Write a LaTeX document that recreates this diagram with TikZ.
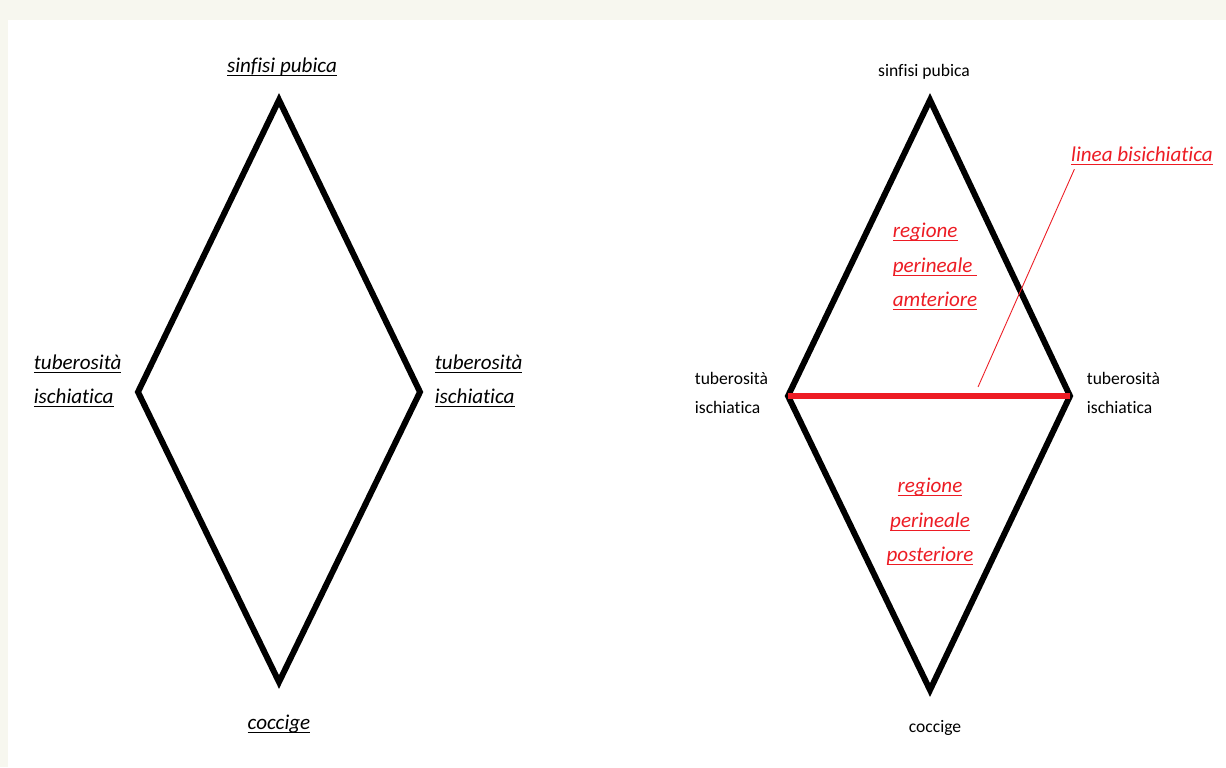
\documentclass[tikz,border=0pt]{standalone}
\usepackage{amsmath}
\usepackage{fontspec}
\setmainfont{Carlito}[Ligatures=NoCommon]
\usepackage{tikz}
\definecolor{paintred}{HTML}{ED1C24}
\definecolor{frame}{HTML}{F7F7EF}
\newcommand{\ulabel}[1]{\underline{\smash[b]{#1}}}
\tikzset{
  bone/.style={line width=3.4pt, line join=miter},
  lab/.style={font=\fontsize{12}{19.5}\selectfont\itshape, inner sep=2pt},
  plainlab/.style={font=\fontsize{10}{16.5}\selectfont, inner sep=2pt},
  redlab/.style={lab, text=paintred},
}

\begin{document}
\begin{tikzpicture}[x=0.02cm, y=-0.02cm]
  % frame
  \fill[frame] (0,0) rectangle (1226,767);
  \fill[white] (8,20) rectangle (1226,767);
  \useasboundingbox (0,0) rectangle (1226,767);

  % left rhombus
  \coordinate (ltop) at (279,100);
  \coordinate (lleft) at (138,392);
  \coordinate (lright) at (420,392);
  \coordinate (lbot) at (279,682);
  \draw[bone] (ltop) -- (lright) -- (lbot) -- (lleft) -- cycle;

  \node[lab] (lsinf) at (282,67) {\ulabel{sinfisi pubica}};
  \node[lab, anchor=west, align=left] (ltubl) at (30,381) {\ulabel{tuberosità}\\\ulabel{ischiatica}};
  \node[lab, anchor=west, align=left] (ltubr) at (431,381) {\ulabel{tuberosità}\\\ulabel{ischiatica}};
  \node[lab] (lcocc) at (279,724) {\ulabel{coccige}};

  % right rhombus
  \coordinate (rtop) at (930,100);
  \coordinate (rleft) at (788,396);
  \coordinate (rright) at (1070,396);
  \coordinate (rbot) at (930,690);
  \draw[bone] (rtop) -- (rright) -- (rbot) -- (rleft) -- cycle;
  \draw[paintred, line width=3.4pt] (rleft) -- (rright);

  \node[plainlab] (rsinf) at (924,72) {sinfisi pubica};
  \node[plainlab, anchor=west, align=left] (rtubl) at (691,393) {tuberosità\\ischiatica};
  \node[plainlab, anchor=west, align=left] (rtubr) at (1083,393) {tuberosità\\ischiatica};
  \node[plainlab] (rcocc) at (935,728) {coccige};

  % regions
  \node[redlab, align=left] (ant) at (935,267) {\ulabel{regione}\\\ulabel{perineale\ }\\\ulabel{amteriore}};
  \node[redlab, align=center] (post) at (930,522) {\ulabel{regione}\\\ulabel{perineale}\\\ulabel{posteriore}};

  % leader
  \node[redlab] (lbis) at (1142,156) {\ulabel{linea bisichiatica}};
  \coordinate (lbfoot) at (978,387);
  \draw[paintred, line width=0.5pt] ([xshift=0.14cm]lbis.south west) -- (lbfoot);
\end{tikzpicture}
\end{document}
